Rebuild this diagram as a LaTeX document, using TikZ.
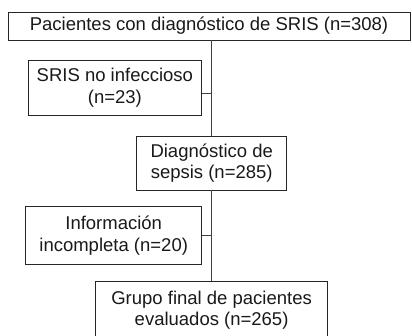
\documentclass[tikz,border=0pt]{standalone}
\usepackage{fontspec}
\setmainfont{Liberation Sans}
\begin{document}
\begin{tikzpicture}[x=1pt,y=-1pt,
  box/.style={draw=black!85, line width=0.9pt, inner sep=0pt, align=center,
    font=\fontsize{18.5}{21.5}\selectfont, text=black!90},
  conn/.style={draw=black!75, line width=0.9pt}]
\useasboundingbox (0,0) rectangle (412,335);
\node[box, minimum width=402, minimum height=28] (top) at (209,26) {Pacientes con diagn\'ostico de SRIS (n=308)};
\node[box, minimum width=173.7, minimum height=54.5] (sris) at (114.85,87.75) {SRIS no infeccioso\\(n=23)};
\node[box, minimum width=150, minimum height=54] (diag) at (211.7,163) {Diagn\'ostico de\\sepsis (n=285)};
\node[box, minimum width=176, minimum height=57.6] (info) at (113.7,235.5) {Informaci\'on\\incompleta (n=20)};
\node[box, minimum width=232.2, minimum height=56.6] (final) at (211.6,310) {Grupo final de pacientes\\evaluados (n=265)};
\coordinate (j1) at (211.7,93.3);
\coordinate (j2) at (211.7,235.5);
\draw[conn] (top.south -| diag.north) -- (diag.north);
\draw[conn] (diag.south) -- (final.north -| diag.south);
\draw[conn] (sris.east |- j1) -- (j1);
\draw[conn] (info.east |- j2) -- (j2);
\end{tikzpicture}
\end{document}
